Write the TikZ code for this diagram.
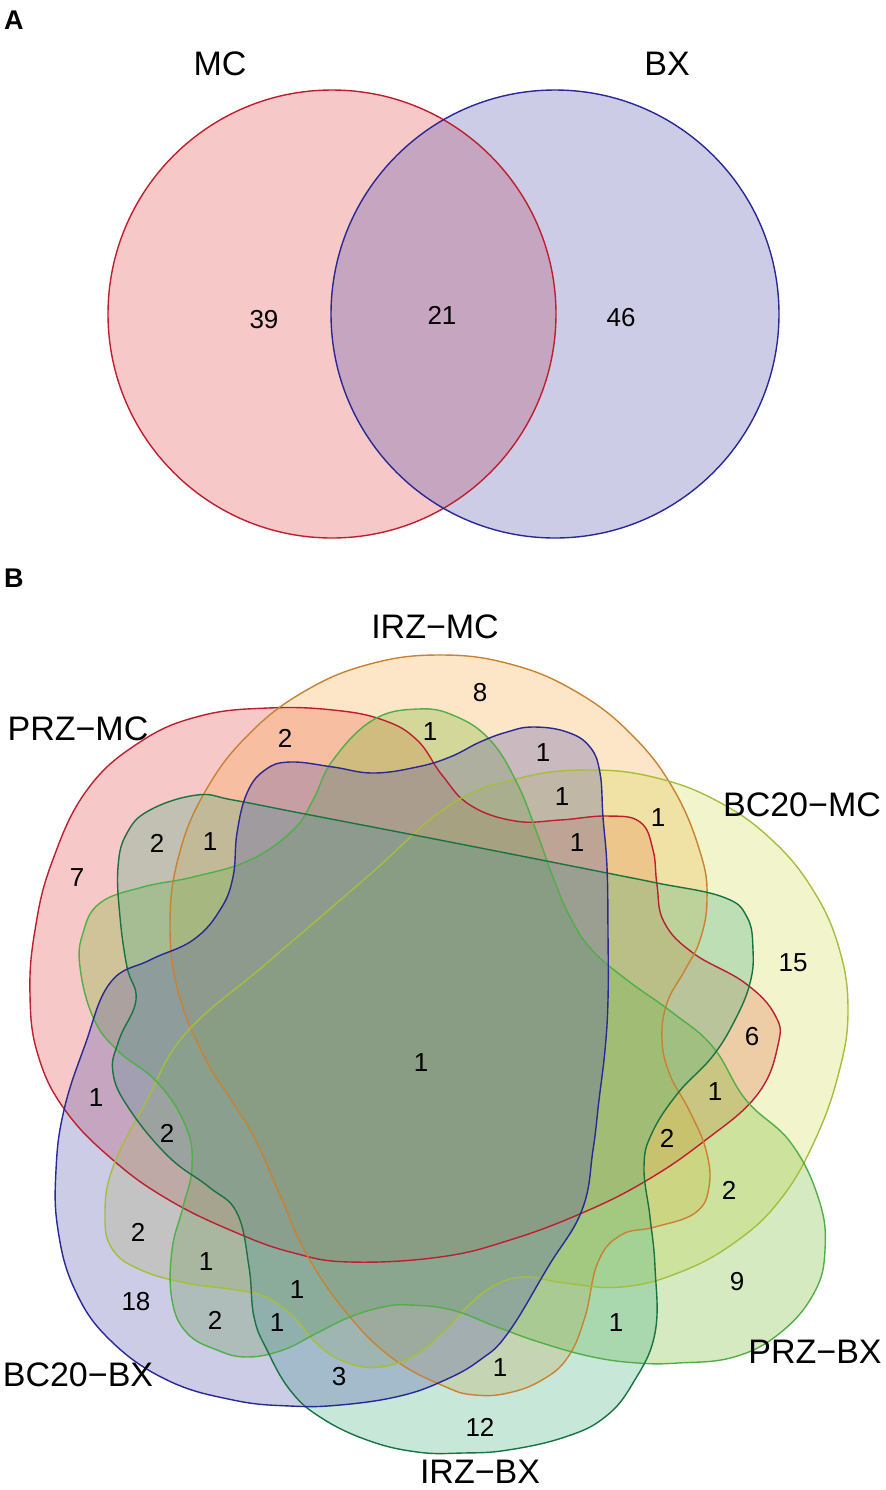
\documentclass[tikz,border=0pt]{standalone}
\usepackage{fontspec}
\setmainfont{Liberation Sans}

\definecolor{mcfill}{RGB}{228,72,72}
\definecolor{mcline}{RGB}{190,30,45}
\definecolor{bxfill}{RGB}{85,85,172}
\definecolor{bxline}{RGB}{40,40,150}
\definecolor{irzmcfill}{RGB}{248,168,72}
\definecolor{irzmcline}{RGB}{200,130,50}
\definecolor{bcmcfill}{RGB}{212,218,85}
\definecolor{bcmcline}{RGB}{165,190,60}
\definecolor{przbxfill}{RGB}{120,185,50}
\definecolor{przbxline}{RGB}{80,175,70}
\definecolor{irzbxfill}{RGB}{70,175,130}
\definecolor{irzbxline}{RGB}{25,115,65}

% outlines of the six sets (pixel coordinates)
\def\przmc{plot[smooth cycle, tension=0.7] coordinates {(268,708) (333,710) (383,720) (417,740) (442,775) (470,805) (515,821) (560,820) (607,816) (640,822) (653,850) (657,885) (664,922) (693,953) (745,983) (775,1015) (778,1045) (757,1095) (703,1142) (644,1182) (582,1213) (510,1240) (440,1257) (350,1262) (294,1253) (237,1233) (169,1200) (113,1160) (65,1110) (38,1055) (30,995) (35,930) (52,862) (87,790) (140,742) (200,716)}}
\def\irzmc{plot[smooth cycle, tension=0.7] coordinates {(440,655) (510,664) (575,691) (631,734) (674,790) (701,855) (707,900) (700,940) (685,970) (667,1003) (662,1040) (670,1075) (689,1110) (706,1150) (709,1187) (695,1213) (655,1227) (621,1235) (598,1262) (585,1317) (568,1357) (542,1380) (508,1393) (475,1395) (446,1387) (395,1360) (350,1317) (308,1257) (280,1195) (254,1137) (228,1095) (206,1060) (179,995) (170,925) (179,855) (206,790) (249,734) (305,691) (370,664)}}
\def\bcmc{plot[smooth cycle, tension=0.7] coordinates {(450,805) (520,778) (590,770) (657,778) (719,802) (772,840) (813,890) (839,948) (848,1010) (839,1072) (815,1140) (780,1200) (734,1243) (678,1273) (621,1287) (565,1283) (525,1277) (495,1285) (469,1305) (445,1330) (415,1355) (380,1367) (345,1362) (316,1343) (294,1317) (266,1297) (237,1290) (186,1283) (141,1270) (113,1250) (105,1217) (113,1167) (147,1100) (186,1033) (267,963) (367,877)}}
\def\przbx{plot[smooth cycle, tension=0.7] coordinates {(418,709) (455,716) (490,740) (517,783) (537,833) (553,877) (570,917) (592,950) (627,980) (673,1013) (713,1047) (746,1100) (791,1143) (819,1200) (825,1250) (814,1293) (780,1333) (734,1357) (678,1363) (638,1363) (593,1357) (542,1343) (497,1327) (452,1310) (410,1305) (383,1307) (350,1317) (317,1333) (283,1350) (247,1357) (217,1350) (187,1333) (172,1300) (172,1250) (183,1207) (192,1167) (186,1127) (158,1083) (117,1050) (93,1017) (80,967) (83,933) (100,903) (143,887) (193,877) (250,860) (293,830) (313,800) (333,760) (373,720)}}
\def\irzbx{plot[smooth cycle, tension=0.7] coordinates {(197,795) (233,800) (300,813) (450,842) (607,873) (657,883) (723,897) (747,917) (753,950) (750,983) (735,1020) (712,1057) (678,1093) (652,1133) (644,1167) (650,1217) (655,1267) (655,1333) (633,1383) (605,1417) (565,1437) (508,1450) (463,1453) (417,1452) (367,1440) (320,1417) (290,1390) (267,1350) (254,1317) (249,1267) (237,1213) (209,1187) (169,1157) (130,1110) (113,1073) (119,1040) (136,1000) (127,967) (120,917) (118,867) (127,833) (150,810)}}
\def\bcbx{plot[smooth cycle, tension=0.7] coordinates {(290,762) (333,767) (373,773) (417,767) (450,757) (480,742) (507,732) (533,727) (567,732) (590,747) (600,773) (603,817) (607,867) (608,933) (608,1000) (605,1050) (599,1100) (593,1150) (582,1210) (548,1267) (508,1333) (480,1360) (445,1380) (400,1396) (340,1405) (290,1406) (233,1400) (167,1380) (110,1340) (75,1290) (58,1230) (56,1170) (64,1110) (85,1045) (110,983) (150,960) (193,940) (220,910) (233,877) (237,833) (247,793) (265,770)}}

\begin{document}
\begin{tikzpicture}[x=0.5pt,y=-0.5pt,
    setname/.style={font=\fontsize{17}{20}\selectfont, inner sep=0pt},
    count/.style={font=\fontsize{13}{15}\selectfont, inner sep=0pt},
    panel/.style={font=\bfseries\fontsize{13.5}{16}\selectfont, inner sep=0pt},
    venn/.style={fill opacity=0.3},
    rim/.style={line width=0.7pt}]
    %%%%% START %%%%%
    \useasboundingbox (0,0) rectangle (886,1490);

    % panel A
    \node[panel] (pA) at (14,20) {A};
    \fill[venn, mcfill] (332,314) circle [radius=112pt];
    \fill[venn, bxfill] (555,314) circle [radius=112pt];
    \draw[rim, mcline] (332,314) circle [radius=112pt];
    \draw[rim, bxline] (555,314) circle [radius=112pt];
    \node[setname] (mc) at (220,64) {MC};
    \node[setname] (bx) at (667,64) {BX};
    \node[count] (a1) at (264,320) {39};
    \node[count] (a2) at (442,315) {21};
    \node[count] (a3) at (621,318) {46};

    % panel B
    \node[panel] (pB) at (14,578) {B};
    \fill[venn, mcfill] \przmc;
    \fill[venn, irzmcfill] \irzmc;
    \fill[venn, bcmcfill] \bcmc;
    \fill[venn, przbxfill] \przbx;
    \fill[venn, irzbxfill] \irzbx;
    \fill[venn, bxfill] \bcbx;

    \draw[rim, mcline] \przmc;
    \draw[rim, irzmcline] \irzmc;
    \draw[rim, bcmcline] \bcmc;
    \draw[rim, przbxline] \przbx;
    \draw[rim, irzbxline] \irzbx;
    \draw[rim, bxline] \bcbx;

    \node[setname] (irzmc) at (435,627) {IRZ−MC};
    \node[setname] (przmc) at (78,729) {PRZ−MC};
    \node[setname] (bcmc) at (802,805) {BC20−MC};
    \node[setname] (przbx) at (815,1352) {PRZ−BX};
    \node[setname] (bcbx) at (78,1375) {BC20−BX};
    \node[setname] (irzbx) at (480,1472) {IRZ−BX};

    \foreach \px/\py/\n [count=\i] in {480/693/8, 285/738/2, 430/732/1, 543/753/1,
        562/797/1, 577/843/1, 658/818/1, 793/963/15, 752/1037/6, 77/878/7,
        157/843/2, 210/842/1, 421/1063/1, 96/1098/1, 167/1133/2, 715/1092/1,
        667/1138/2, 729/1190/2, 138/1232/2, 206/1262/1, 297/1290/1, 136/1302/18,
        215/1320/2, 277/1323/1, 737/1282/9, 616/1323/1, 500/1368/1, 339/1377/3,
        480/1427/12}
        \node[count] (b\i) at (\px,\py) {\n};
    %%%%% END %%%%%
\end{tikzpicture}
\end{document}
